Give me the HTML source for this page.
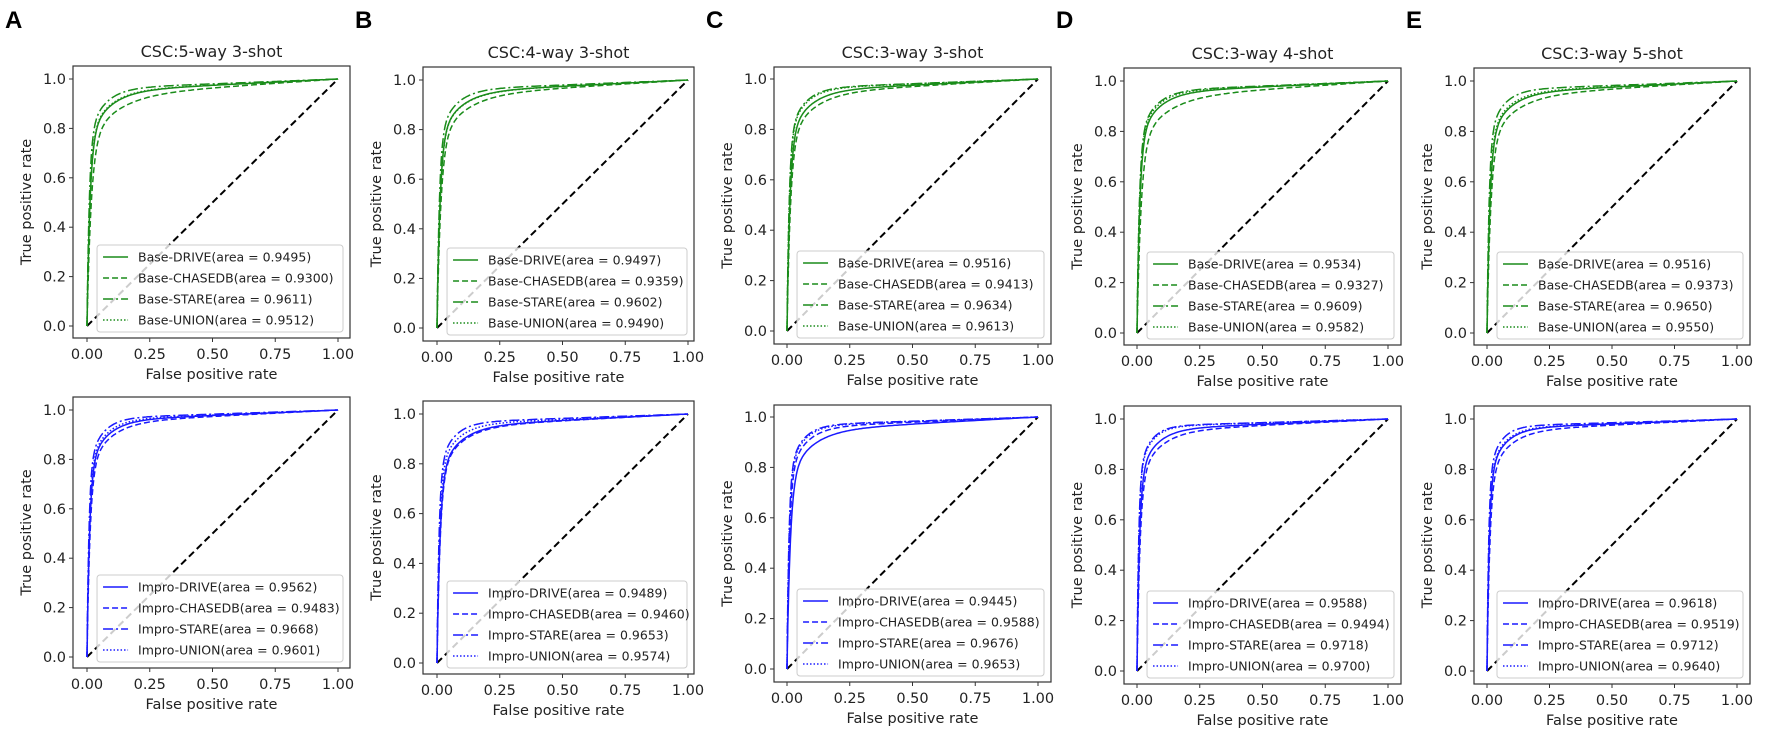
<!DOCTYPE html>
<html><head><meta charset="utf-8"><style>
html,body{margin:0;padding:0;background:#fff;}
svg{display:block;font-family:"DejaVu Sans","Liberation Sans",sans-serif;}
</style></head><body>
<svg id="s" width="1772" height="750" xmlns="http://www.w3.org/2000/svg"></svg>
<script>
const P=[
 {L:'A',t:'CSC:5-way 3-shot',bx:[73,350],dx:[87,338],rows:[{b:[66,338],y:[79,326]},{b:[397,668],y:[410,657]}],
  a:[[0.9495,0.9300,0.9611,0.9512],[0.9562,0.9483,0.9668,0.9601]]},
 {L:'B',t:'CSC:4-way 3-shot',bx:[423,694],dx:[437,688],rows:[{b:[67,341],y:[80,328]},{b:[401,674],y:[414,663]}],
  a:[[0.9497,0.9359,0.9602,0.9490],[0.9489,0.9460,0.9653,0.9574]]},
 {L:'C',t:'CSC:3-way 3-shot',bx:[774,1051],dx:[787,1038],rows:[{b:[67,344],y:[79,331]},{b:[405,682],y:[417,669]}],
  a:[[0.9516,0.9413,0.9634,0.9613],[0.9445,0.9588,0.9676,0.9653]]},
 {L:'D',t:'CSC:3-way 4-shot',bx:[1124,1401],dx:[1137,1388],rows:[{b:[68,345],y:[81,333]},{b:[406,684],y:[419,671]}],
  a:[[0.9534,0.9327,0.9609,0.9582],[0.9588,0.9494,0.9718,0.9700]]},
 {L:'E',t:'CSC:3-way 5-shot',bx:[1474,1750],dx:[1487,1737],rows:[{b:[68,345],y:[81,333]},{b:[406,684],y:[419,671]}],
  a:[[0.9516,0.9373,0.9650,0.9550],[0.9618,0.9519,0.9712,0.9640]]}
];
const names=['DRIVE','CHASEDB','STARE','UNION'];
const dash=['', '6,3','10,3,2,3','1.5,2'];
let h='';
const f=v=>v.toFixed(1);
P.forEach((p,pi)=>{
 h+=`<text x="${p.bx[0]-68}" y="28" font-size="24" font-weight="bold" font-family="Liberation Sans,sans-serif" fill="#000">${p.L}</text>`;
 h+=`<text x="${(p.bx[0]+p.bx[1])/2}" y="${p.rows[0].b[0]-9}" font-size="16" text-anchor="middle" fill="#222">${p.t}</text>`;
 p.rows.forEach((r,ri)=>{
  const col=ri==0?'#1a8c1a':'#1a1aff';
  const pre=ri==0?'Base-':'Impro-';
  const X=v=>p.dx[0]+v*(p.dx[1]-p.dx[0]);
  const Y=v=>r.y[1]-v*(r.y[1]-r.y[0]);
  for(let i=0;i<=5;i++){const v=i*0.2,y=Y(v);
   h+=`<line x1="${p.bx[0]-4}" y1="${y}" x2="${p.bx[0]}" y2="${y}" stroke="#333"/>`;
   h+=`<text x="${p.bx[0]-7}" y="${y+5}" font-size="14.5" text-anchor="end" fill="#222">${v.toFixed(1)}</text>`;}
  for(let i=0;i<=4;i++){const v=i*0.25,x=X(v);
   h+=`<line x1="${x}" y1="${r.b[1]}" x2="${x}" y2="${r.b[1]+4}" stroke="#333"/>`;
   h+=`<text x="${x}" y="${r.b[1]+21}" font-size="14.5" text-anchor="middle" fill="#222">${v.toFixed(2)}</text>`;}
  h+=`<text x="${(p.bx[0]+p.bx[1])/2}" y="${r.b[1]+41}" font-size="14.5" text-anchor="middle" fill="#222">False positive rate</text>`;
  const cy=(r.b[0]+r.b[1])/2, lx=p.bx[0]-47;
  h+=`<text x="${lx}" y="${cy}" font-size="14.5" text-anchor="middle" fill="#222" transform="rotate(-90 ${lx} ${cy})" dy="5">True positive rate</text>`;
  h+=`<line x1="${X(0)}" y1="${Y(0)}" x2="${X(1)}" y2="${Y(1)}" stroke="#000" stroke-width="2" stroke-dasharray="7,4"/>`;
  p.a[ri].forEach((a,k)=>{
   const kk=(1-a)/0.05;
   const A=0.75,B=0.2,C=0.05*kk,s1=0.012*kk,s2=0.08*kk;
   const F=x=>A*(1-Math.exp(-x/s1))+B*(1-Math.exp(-x/s2))+C*x;
   const n=F(1);
   let d='M'+f(X(0))+','+f(Y(0));
   for(let i=1;i<=160;i++){const x=Math.pow(i/160,2.2);
    d+=' L'+f(X(x))+','+f(Y(F(x)/n));}
   h+=`<path d="${d}" fill="none" stroke="${col}" stroke-width="1.5" stroke-dasharray="${dash[k]}"/>`;
  });
  const lgx=X(0.04), lgw=p.bx[1]-7-lgx, lgy=r.b[1]-93, lgh=87;
  h+=`<rect x="${lgx}" y="${lgy}" width="${lgw}" height="${lgh}" rx="3" fill="#fff" fill-opacity="0.8" stroke="#ccc"/>`;
  names.forEach((n,k)=>{const yy=lgy+12+k*21;
   h+=`<line x1="${lgx+6}" y1="${yy}" x2="${lgx+31}" y2="${yy}" stroke="${col}" stroke-width="1.5" stroke-dasharray="${dash[k]}"/>`;
   h+=`<text x="${lgx+41}" y="${yy+4.5}" font-size="12.5" fill="#222">${pre}${n}(area = ${p.a[ri][k].toFixed(4)})</text>`;});
  h+=`<rect x="${p.bx[0]}" y="${r.b[0]}" width="${p.bx[1]-p.bx[0]}" height="${r.b[1]-r.b[0]}" fill="none" stroke="#333" stroke-width="1.2"/>`;
 });
});
document.getElementById('s').innerHTML=h;
</script>
</body></html>
